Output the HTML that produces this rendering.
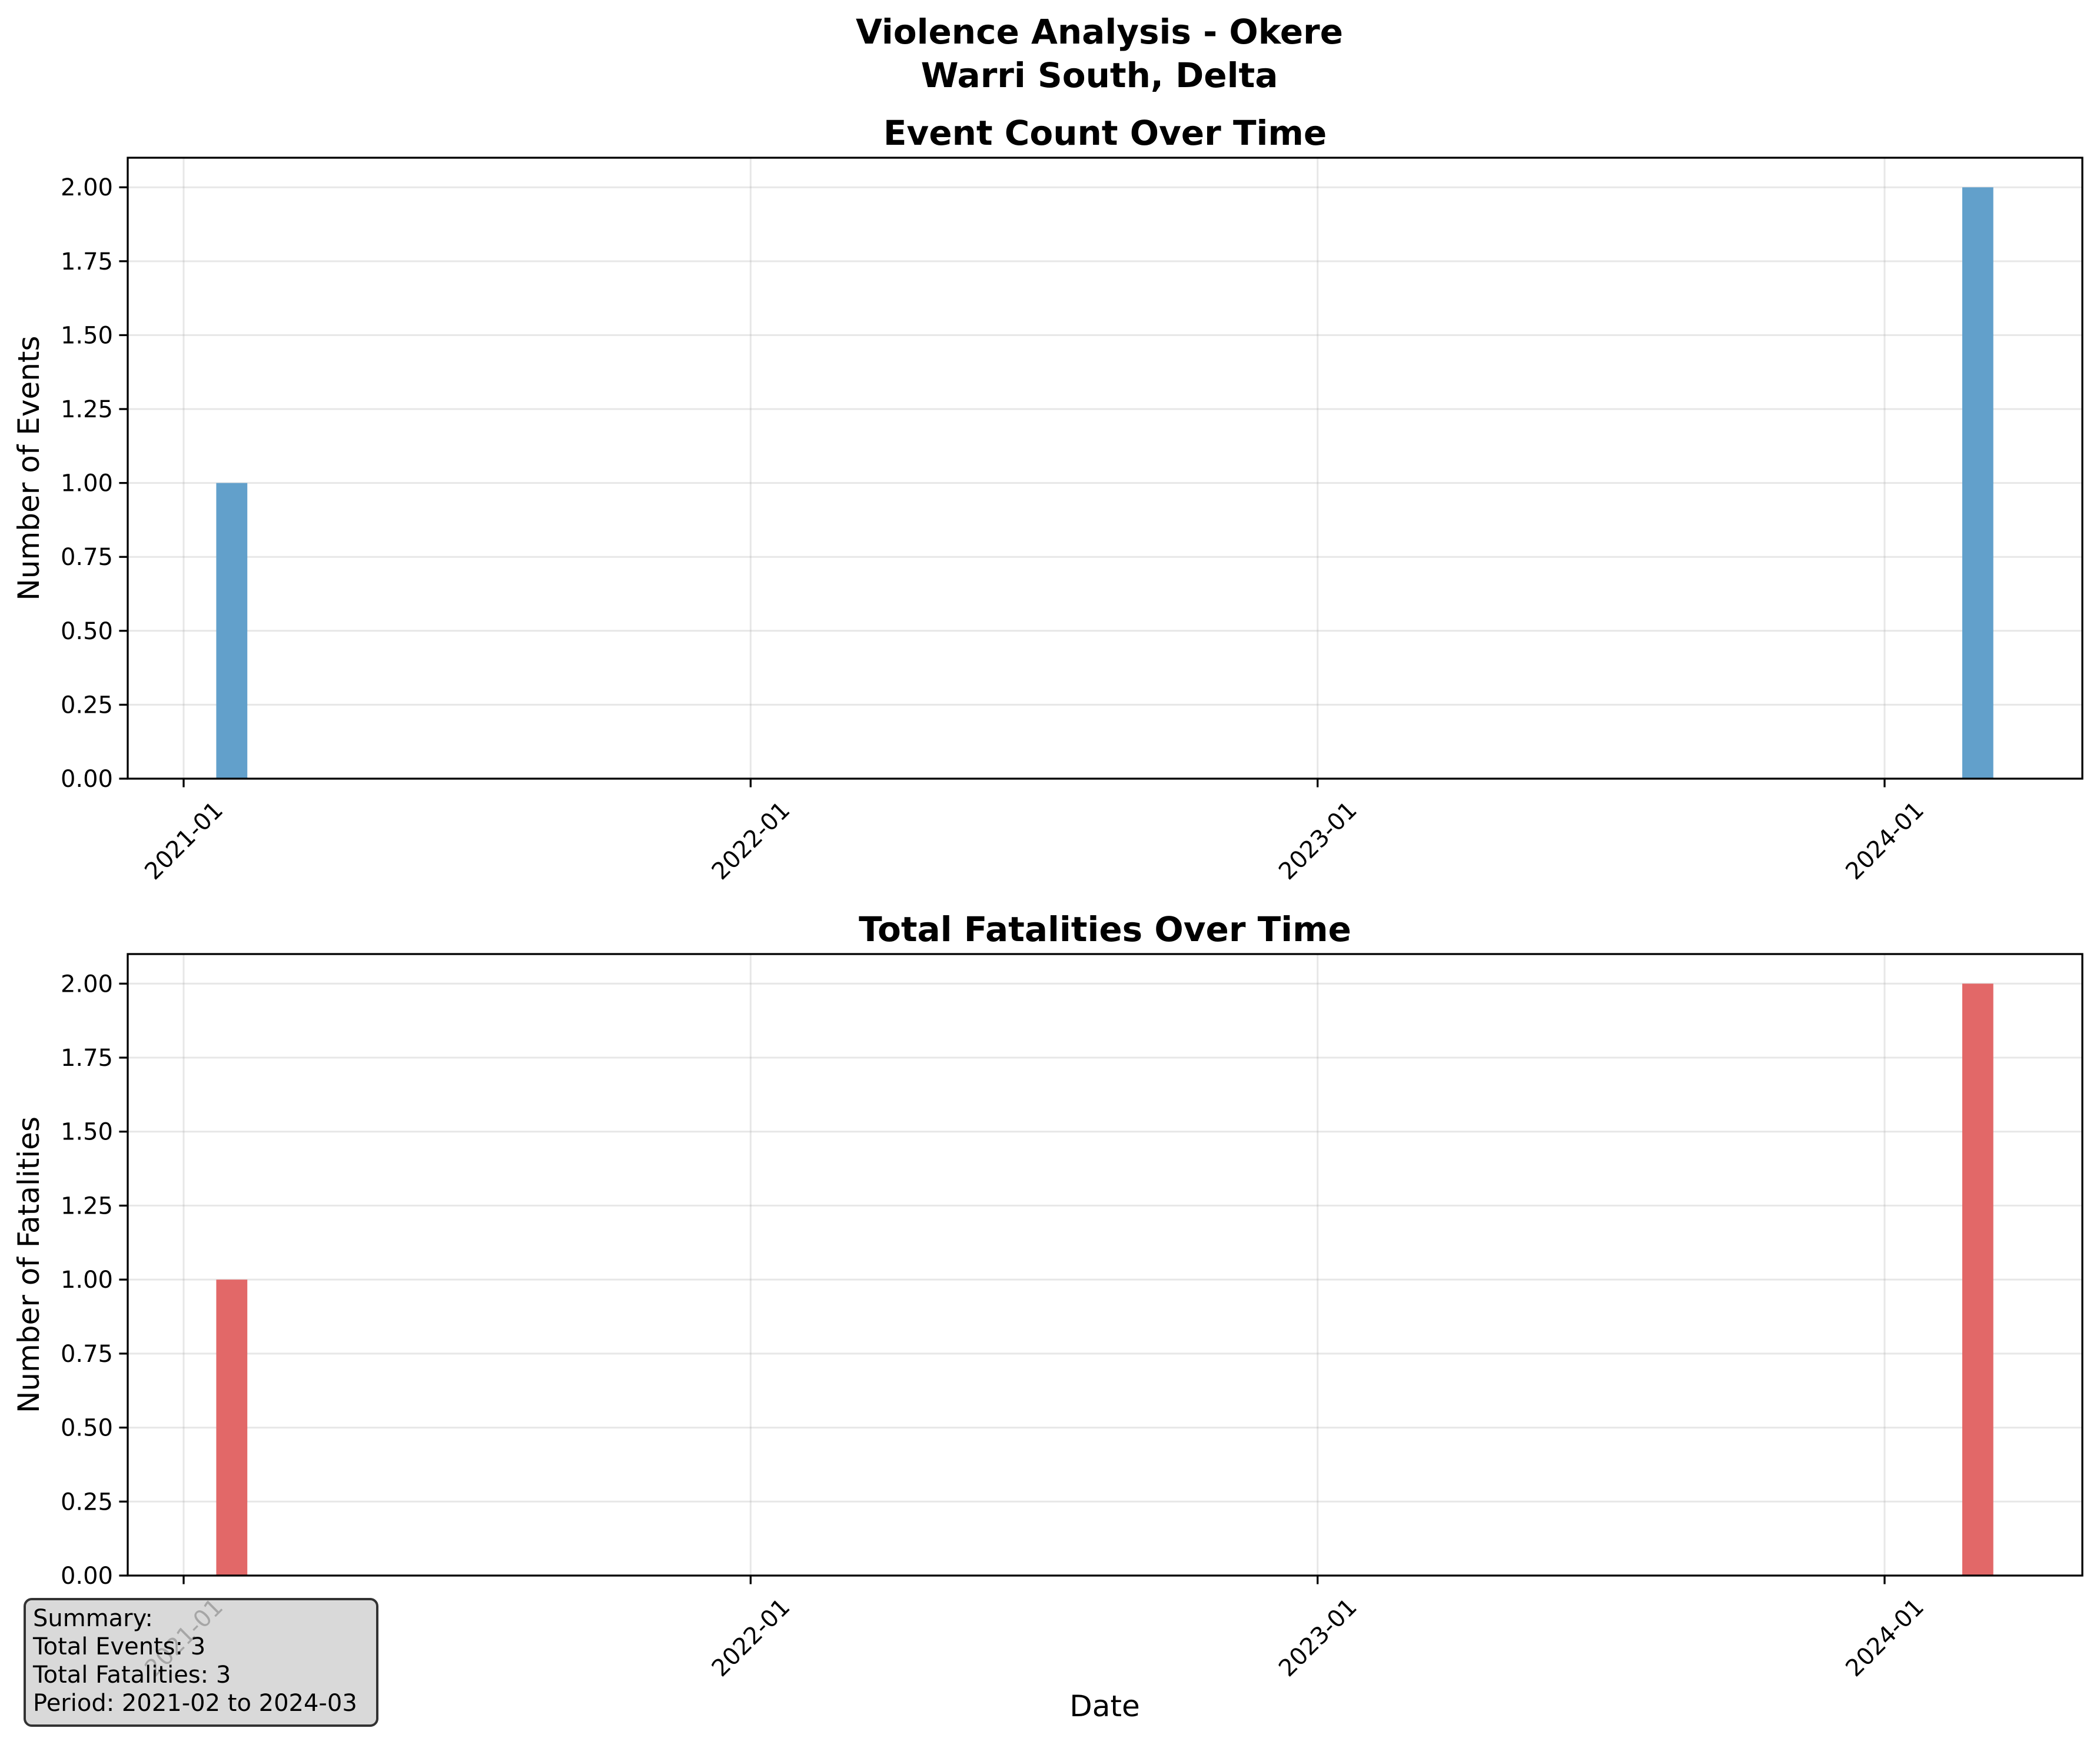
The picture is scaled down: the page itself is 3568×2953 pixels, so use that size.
<!DOCTYPE html>
<html><head><meta charset="utf-8"><style>
html,body{margin:0;padding:0;background:#fff}
svg{display:block}
text{font-family:"DejaVu Sans","Liberation Sans",sans-serif;fill:#000}
</style></head><body>
<svg id="chart" width="3568" height="2953" viewBox="0 0 3568 2953" xmlns="http://www.w3.org/2000/svg">
<rect width="3568" height="2953" fill="#fff"/>
<text x="1868" y="74" font-size="58" font-weight="bold" text-anchor="middle">Violence Analysis - Okere</text>
<text x="1868" y="148" font-size="58" font-weight="bold" text-anchor="middle">Warri South, Delta</text>
<g id="plots"></g>
<text x="1877" y="2916" font-size="50" text-anchor="middle">Date</text>
<g>
<rect x="42" y="2717" width="599" height="215" rx="12" fill="#d0d0d0" fill-opacity="0.8" stroke="#333" stroke-width="4"/>
<text x="56" y="2763" font-size="40">Summary:</text>
<text x="56" y="2811" font-size="40">Total Events: 3</text>
<text x="56" y="2859" font-size="40">Total Fatalities: 3</text>
<text x="56" y="2907" font-size="40">Period: 2021-02 to 2024-03</text>
</g>
</svg>
<script>
const barDates = ["2021-02-01","2024-03-01"];
const eventCounts = [1, 2];
const fatalityCounts = [1, 2];
const xTickLabels = ["2021-01","2022-01","2023-01","2024-01"];
const yTickValues = [0,0.25,0.5,0.75,1,1.25,1.5,1.75,2];

const NS="http://www.w3.org/2000/svg";
const g=document.getElementById('plots');
const L=217,R=3538;
const base=Date.UTC(2021,0,1);
const pxPerDay=(3202-312)/1095;
function dayOf(s){const p=s.split('-');return (Date.UTC(+p[0],+p[1]-1,+(p[2]||1))-base)/86400000;}
function xs(s){return 312+dayOf(s)*pxPerDay;}
function mk(tag,attrs,parent){const e=document.createElementNS(NS,tag);for(const k in attrs)e.setAttribute(k,attrs[k]);(parent||g).appendChild(e);return e;}

function panel(top,bottom,vals,color,title,ylabel,name){
  const ys=v=>bottom-(bottom-top)*v/2.1;
  const grp=mk('g',{});
  
  
  xTickLabels.forEach(t=>{const x=xs(t+"-01");
    const gl=mk('line',{x1:x,x2:x,y1:top,y2:bottom,stroke:'#b0b0b0','stroke-opacity':0.3,'stroke-width':3},grp);
    
    
  });
  yTickValues.forEach(v=>{const y=ys(v);
    const gl=mk('line',{x1:L,x2:R,y1:y,y2:y,stroke:'#b0b0b0','stroke-opacity':0.3,'stroke-width':3},grp);
    
    
    mk('line',{x1:L-14.6,x2:L,y1:y,y2:y,stroke:'#000','stroke-width':3.3},grp);
    const tx=mk('text',{x:L-25,y:y+14,'font-size':40,'text-anchor':'end'},grp);
    tx.textContent=v.toFixed(2);
    
    
  });
  const w=20*pxPerDay;
  barDates.forEach((d,i)=>{const x=xs(d);
    const b=mk('rect',{x:x-w/2,y:ys(vals[i]),width:w,height:bottom-ys(vals[i]),fill:color},grp);
    
    
  });
  mk('rect',{x:L,y:top,width:R-L,height:bottom-top,fill:'none',stroke:'#000','stroke-width':3.3},grp);
  xTickLabels.forEach(t=>{const x=xs(t+"-01");
    mk('line',{x1:x,x2:x,y1:bottom,y2:bottom+14.6,stroke:'#000','stroke-width':3.3},grp);
    const cy=bottom+105;
    const tx=mk('text',{x:x,y:cy+14,'font-size':40,'text-anchor':'middle',transform:`rotate(-45 ${x} ${cy})`},grp);
    tx.textContent=t;
    
    
  });
  const tt=mk('text',{x:(L+R)/2,y:top-22,'font-size':58,'font-weight':'bold','text-anchor':'middle'},grp);
  tt.textContent=title;
  
  
  const my=(top+bottom)/2;
  const yl=mk('text',{x:66,y:my,'font-size':50,'text-anchor':'middle',transform:`rotate(-90 66 ${my})`},grp);
  yl.textContent=ylabel;
  
  
}
panel(268,1323,eventCounts,'#62a0cb','Event Count Over Time','Number of Events','events-panel');
panel(1621,2677,fatalityCounts,'#e26868','Total Fatalities Over Time','Number of Fatalities','fatalities-panel');
</script>
</body></html>
